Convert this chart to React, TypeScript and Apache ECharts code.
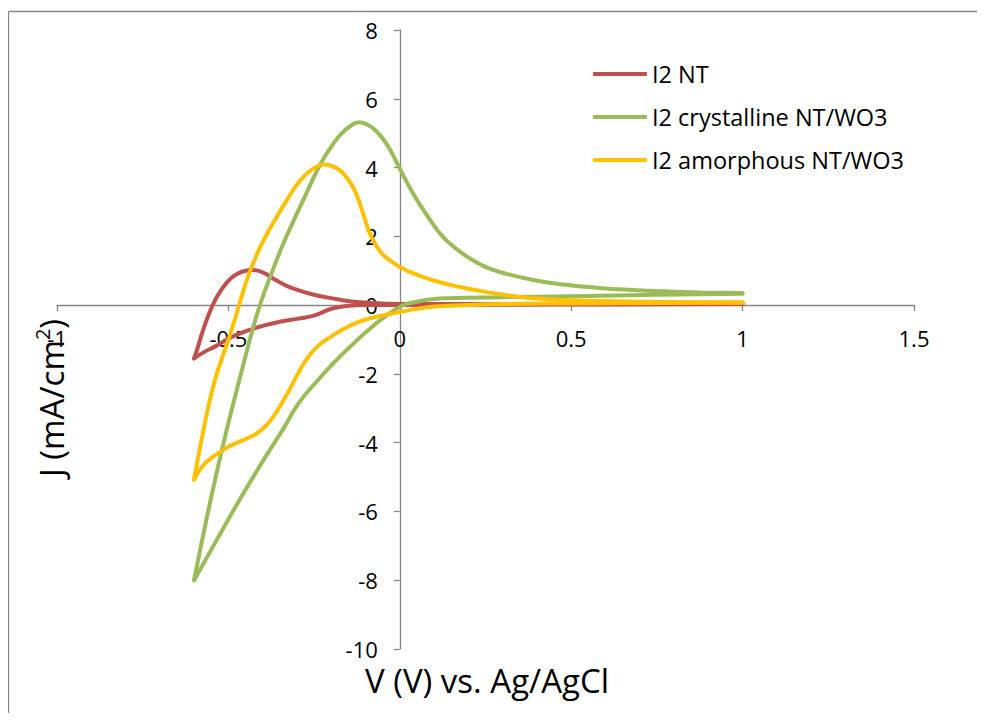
import React, { useEffect, useRef } from 'react';
import * as echarts from 'echarts';

const seriesNames = ['I2 NT', 'I2 crystalline NT/WO3', 'I2 amorphous NT/WO3'];
const seriesColors = ['#C0504D', '#9BBB59', '#FFC000'];

const xTitle = 'V (V) vs. Ag/AgCl';
const yTitleRich = '{n|J (mA/cm}{s|2}{n|)}';

const xMin = -1;
const xMax = 1.5;
const xStep = 0.5;
const yMin = -10;
const yMax = 8;
const yStep = 2;

// I2 NT: anodic (forward) and cathodic (reverse) branches, sorted by V
const ntForward: [number, number][] = [
  [-0.6, -1.55], [-0.59, -1.25], [-0.577, -0.82], [-0.563, -0.42], [-0.548, -0.05],
  [-0.53, 0.3], [-0.509, 0.6], [-0.49, 0.8], [-0.47, 0.93], [-0.45, 1.0], [-0.431, 1.02],
  [-0.4, 0.95], [-0.362, 0.73], [-0.33, 0.56], [-0.295, 0.43], [-0.25, 0.3],
  [-0.216, 0.23], [-0.17, 0.15], [-0.128, 0.09], [-0.05, 0.05], [0, 0.03],
  [0.2, 0.03], [0.4, 0.03], [0.6, 0.03], [0.8, 0.03], [1.0, 0.04],
];
const ntReverse: [number, number][] = [
  [-0.6, -1.55], [-0.57, -1.36], [-0.538, -1.2], [-0.489, -0.92], [-0.44, -0.73],
  [-0.392, -0.58], [-0.343, -0.47], [-0.3, -0.4], [-0.275, -0.36], [-0.246, -0.29],
  [-0.197, -0.1], [-0.149, -0.02], [-0.1, 0.0], [0, 0.0], [0.3, 0.01],
  [0.6, 0.02], [1.0, 0.03],
];

// I2 crystalline NT/WO3
const crForward: [number, number][] = [
  [-0.6, -8.0], [-0.557, -5.9], [-0.514, -4.0], [-0.466, -2.1], [-0.425, -0.55],
  [-0.403, 0.15], [-0.375, 0.9], [-0.344, 1.69], [-0.31, 2.45], [-0.274, 3.22],
  [-0.246, 3.82], [-0.22, 4.3], [-0.197, 4.65], [-0.169, 5.0], [-0.145, 5.2],
  [-0.12, 5.32], [-0.095, 5.25], [-0.07, 5.07], [-0.045, 4.78], [-0.023, 4.42],
  [0, 3.97], [0.03, 3.4], [0.06, 2.9], [0.094, 2.4], [0.12, 2.05],
  [0.15, 1.76], [0.19, 1.45], [0.24, 1.16], [0.289, 0.97], [0.385, 0.74],
  [0.484, 0.59], [0.58, 0.5], [0.68, 0.44], [0.776, 0.4], [0.88, 0.37],
  [1.0, 0.35],
];
const crReverse: [number, number][] = [
  [-0.6, -8.0], [-0.538, -6.9], [-0.49, -6.05], [-0.44, -5.2], [-0.391, -4.4],
  [-0.34, -3.6], [-0.295, -2.85], [-0.236, -2.15], [-0.19, -1.65], [-0.149, -1.25],
  [-0.1, -0.8], [-0.052, -0.4], [0.006, -0.02], [0.05, 0.1], [0.094, 0.17],
  [0.143, 0.2], [0.3, 0.23], [0.5, 0.26], [0.75, 0.3], [1.0, 0.33],
];

// I2 amorphous NT/WO3
const amForward: [number, number][] = [
  [-0.6, -5.05], [-0.578, -3.9], [-0.555, -2.8], [-0.537, -2.1], [-0.519, -1.55],
  [-0.5, -1.0], [-0.479, -0.35], [-0.46, 0.3], [-0.44, 0.9], [-0.418, 1.45],
  [-0.397, 1.89], [-0.36, 2.55], [-0.324, 3.14], [-0.295, 3.57], [-0.266, 3.87],
  [-0.24, 4.04], [-0.222, 4.09], [-0.2, 4.05], [-0.175, 3.92], [-0.149, 3.63],
  [-0.13, 3.3], [-0.115, 2.9], [-0.1, 2.45], [-0.088, 2.1], [-0.072, 1.78],
  [-0.052, 1.5], [-0.025, 1.27], [0, 1.11], [0.04, 0.92], [0.094, 0.73],
  [0.15, 0.58], [0.19, 0.5], [0.289, 0.32], [0.38, 0.21], [0.484, 0.15],
  [0.63, 0.11], [0.776, 0.09], [1.0, 0.08],
];
const amReverse: [number, number][] = [
  [-0.6, -5.08], [-0.577, -4.7], [-0.55, -4.45], [-0.528, -4.3], [-0.5, -4.12],
  [-0.47, -3.98], [-0.44, -3.85], [-0.42, -3.75], [-0.395, -3.55], [-0.373, -3.3],
  [-0.35, -2.95], [-0.324, -2.5], [-0.3, -2.05], [-0.275, -1.62], [-0.24, -1.2],
  [-0.198, -0.9], [-0.15, -0.62], [-0.1, -0.42], [-0.05, -0.3], [0, -0.2],
  [0.05, -0.11], [0.093, -0.05], [0.143, -0.02], [0.3, 0.03], [0.5, 0.05],
  [0.75, 0.06], [1.0, 0.07],
];

const branches: [number, [number, number][]][] = [
  [0, ntForward], [0, ntReverse],
  [1, crForward], [1, crReverse],
  [2, amForward], [2, amReverse],
];

const FONT = '"Open Sans", Lato, sans-serif';
const AXIS_COLOR = '#868686';

const GRID = { left: 49, top: 22, width: 857, height: 619 };

export default function App() {
  const ref = useRef<HTMLDivElement>(null);
  useEffect(() => {
    if (!ref.current) return;
    const chart = echarts.init(ref.current, undefined, { renderer: 'svg' });
    // place each axis line on the other's zero value
    const xAxisOffset = -GRID.height * (0 - yMin) / (yMax - yMin);
    const yAxisOffset = -GRID.width * (0 - xMin) / (xMax - xMin);
    const axisCommon = {
      type: 'value' as const,
      axisLine: { show: true, onZero: false, lineStyle: { color: AXIS_COLOR, width: 1.3 } },
      axisTick: { show: true, length: 6, lineStyle: { color: AXIS_COLOR, width: 1.3 } },
      splitLine: { show: false },
    };
    chart.setOption({
      animation: false,
      backgroundColor: '#ffffff',
      grid: { ...GRID, containLabel: false },
      xAxis: {
        ...axisCommon,
        position: 'bottom',
        offset: xAxisOffset,
        min: xMin, max: xMax, interval: xStep,
        axisLabel: { fontSize: 22, color: '#000', margin: 22, fontFamily: FONT },
      },
      yAxis: {
        ...axisCommon,
        position: 'left',
        offset: yAxisOffset,
        min: yMin, max: yMax, interval: yStep,
        axisLabel: { fontSize: 22, color: '#000', margin: 22, fontFamily: FONT },
      },
      legend: {
        show: true,
        orient: 'vertical',
        left: 580,
        top: 49,
        icon: 'roundRect',
        itemWidth: 54,
        itemHeight: 4,
        itemGap: 19,
        data: seriesNames,
        textStyle: { fontSize: 23.5, color: '#000', fontFamily: FONT, lineHeight: 23 },
      },
      series: branches.map(([i, d]) => ({
        name: seriesNames[i],
        type: 'line',
        data: d,
        symbol: 'none',
        showSymbol: false,
        smooth: 0.5,
        lineStyle: { width: 4, color: seriesColors[i], cap: 'round', join: 'round' },
        itemStyle: { color: seriesColors[i] },
        z: 2 + i,
      })),
      graphic: [
        { type: 'line', shape: { x1: 0.5, y1: 3.5, x2: 969, y2: 3.5 }, style: { stroke: AXIS_COLOR, lineWidth: 1.3 } },
        { type: 'line', shape: { x1: 0.5, y1: 3.5, x2: 0.5, y2: 705 }, style: { stroke: AXIS_COLOR, lineWidth: 1.3 } },
        {
          type: 'text', x: 479, y: 672,
          style: { text: xTitle, fontSize: 33, fontFamily: FONT, fill: '#000', align: 'center', verticalAlign: 'middle' },
        },
        {
          type: 'text', x: 42, y: 390, rotation: Math.PI / 2,
          style: {
            text: yTitleRich, fill: '#000', align: 'center', verticalAlign: 'middle', fontFamily: FONT,
            rich: {
              n: { fontSize: 33, fontFamily: FONT, fill: '#000', lineHeight: 36, verticalAlign: 'bottom' },
              s: { fontSize: 20, fontFamily: FONT, fill: '#000', lineHeight: 36, verticalAlign: 'top' },
            },
          },
        },
      ],
    });
    return () => chart.dispose();
  }, []);
  return <div ref={ref} style={{ width: 969, height: 705 }} />;
}
